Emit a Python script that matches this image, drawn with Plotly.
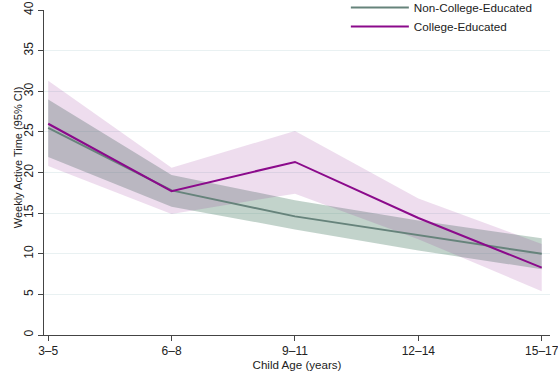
import plotly.graph_objects as go

ages = ["3–5", "6–8", "9–11", "12–14", "15–17"]

non_mean = [25.5, 17.8, 14.6, 12.3, 10.0]
non_lo = [21.9, 15.8, 13.0, 10.4, 8.1]
non_hi = [29.0, 19.7, 16.6, 14.1, 11.9]

col_mean = [26.0, 17.7, 21.3, 14.4, 8.3]
col_lo = [20.8, 14.9, 17.4, 11.8, 5.4]
col_hi = [31.3, 20.6, 25.1, 16.8, 11.2]

y_ticks = [0, 5, 10, 15, 20, 25, 30, 35, 40]

GREEN_LINE = "#66837b"
GREEN_FILL = "rgba(80,130,105,0.35)"
PURPLE_LINE = "#8b0a8b"
PURPLE_FILL = "rgba(140,30,140,0.15)"

fig = go.Figure()

fig.add_trace(go.Scatter(
    x=ages + ages[::-1], y=non_hi + non_lo[::-1],
    fill="toself", fillcolor=GREEN_FILL, line=dict(width=0),
    mode="lines", showlegend=False, hoverinfo="skip"))
fig.add_trace(go.Scatter(
    x=ages + ages[::-1], y=col_hi + col_lo[::-1],
    fill="toself", fillcolor=PURPLE_FILL, line=dict(width=0),
    mode="lines", showlegend=False, hoverinfo="skip"))
fig.add_trace(go.Scatter(
    x=ages, y=non_mean, mode="lines", name="Non-College-Educated",
    line=dict(color=GREEN_LINE, width=2)))
fig.add_trace(go.Scatter(
    x=ages, y=col_mean, mode="lines", name="College-Educated",
    line=dict(color=PURPLE_LINE, width=2)))

font_family = "Liberation Sans, Arial, Helvetica, sans-serif"

fig.update_layout(
    width=558, height=374,
    margin=dict(l=43.5, r=8, t=10, b=39, autoexpand=False),
    paper_bgcolor="white", plot_bgcolor="white",
    font=dict(family=font_family, size=12, color="#222222"),
    showlegend=True,
    legend=dict(
        x=0.976, xanchor="right", y=1.052, yanchor="top",
        bgcolor="white", borderwidth=0,
        font=dict(size=11.7, color="#222222"),
        tracegroupgap=0, itemwidth=58,
    ),
    xaxis=dict(
        type="category", categoryorder="array", categoryarray=ages,
        range=[-0.034, 4.067],
        showgrid=False, zeroline=False, automargin=False,
        showline=True, linecolor="#444444", linewidth=1,
        ticks="outside", ticklen=5, tickcolor="#444444",
        tickfont=dict(size=12),
        title=dict(text="Child Age (years)", font=dict(size=11.6), standoff=2),
    ),
    yaxis=dict(
        range=[0, 40], tickvals=y_ticks, automargin=False,
        showgrid=True, gridcolor="#e9f1f2", gridwidth=1,
        zeroline=False,
        showline=True, linecolor="#444444", linewidth=1,
        ticks="outside", ticklen=5, tickcolor="#444444",
        tickangle=-90,
        tickfont=dict(size=12),
    ),
    annotations=[dict(
        text="Weekly Active Time (95% CI)", textangle=-90,
        xref="paper", yref="paper", x=-0.052, y=0.546,
        xanchor="center", yanchor="middle", showarrow=False,
        font=dict(size=11),
    )],
)

# remove the browser's default 8px body margin so the figure fills the window
fig.write_html(
    "out.html",
    config={"displayModeBar": False},
    post_script="document.body.style.margin='0px';",
)
